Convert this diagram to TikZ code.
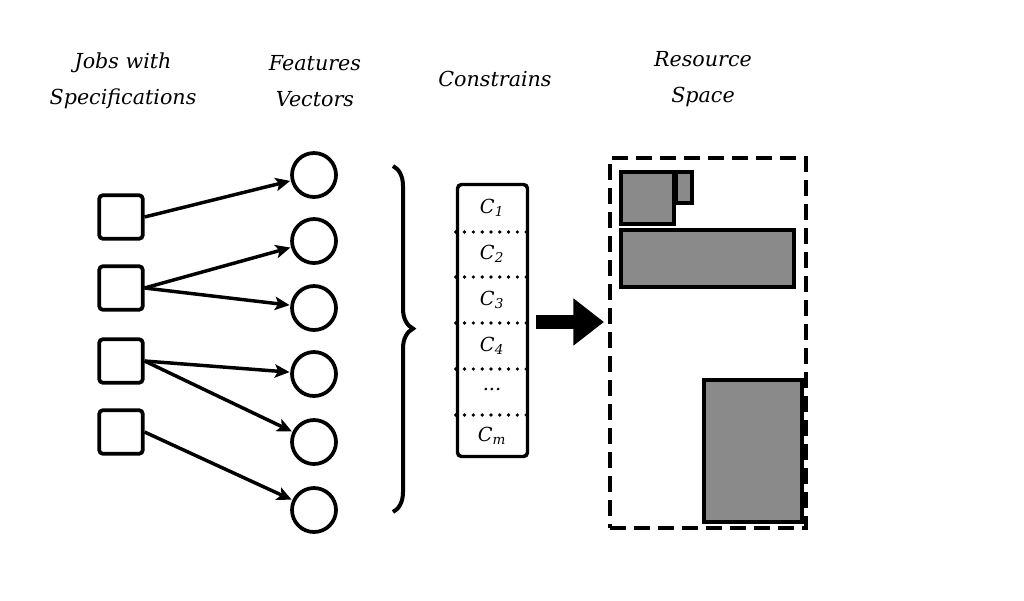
\documentclass[tikz,border=0pt]{standalone}
\usepackage{fontspec}
\setmainfont{DejaVu Serif}
\usetikzlibrary{arrows.meta,calc,decorations.pathreplacing}
\tikzset{
    job-box/.style = {draw, line width=2.8pt, rectangle, rounded corners=2.5pt, minimum size=32.5pt, inner sep=0pt},
    feature-node/.style = {draw, line width=2.8pt, circle, minimum size=33pt, inner sep=0pt},
    link/.style = {line width=2.6pt, -{Stealth[length=11pt, width=10pt, inset=2.5pt]}, shorten >=0.5pt},
    title/.style = {align=center, font=\fontsize{15.5}{27}\selectfont\itshape},
    constraint-box/.style = {draw, line width=2.6pt, rectangle, rounded corners=3pt, minimum width=52.5pt, minimum height=204pt, inner sep=0pt},
    constraint-label/.style = {font=\fontsize{14.5}{16}\selectfont\itshape},
    dot-line/.style = {line width=2.8pt, line cap=round, dash pattern=on 0pt off 6.6pt},
    space-box/.style = {draw, line width=3pt, dash pattern=on 12pt off 6pt, rectangle, minimum width=147pt, minimum height=277.5pt, inner sep=0pt},
    job-block/.style = {draw, line width=2.8pt, fill=black!46},
    fat-arrow/.style = {line width=10.5pt, -{Triangle[length=23pt, width=34pt]}},
}
\begin{document}
\begin{tikzpicture}[x=0.75pt, y=-0.75pt]
\useasboundingbox (0,0) rectangle (1024,600);

\node[title] (jobs-title) at (123,81) {Jobs with\\Specifications};
\node[title] (feat-title) at (315,81) {Features\\Vectors};
\node[title] (cons-title) at (495,79) {Constrains};
\node[title] (space-title) at (703,79) {Resource\\Space};

% jobs and feature vectors
\foreach \i/\y in {1/217,2/288,3/361,4/432}
    \node[job-box] (s\i) at (121,\y) {};
\foreach \i/\y in {1/175,2/241,3/308,4/374,5/442,6/510}
    \node[feature-node] (f\i) at (314,\y) {};
\foreach \a/\b in {1/1,2/2,2/3,3/4,3/5,4/6}
    \draw[link] (s\a.east) -- (f\b);

\coordinate (br-top) at (393,166);
\coordinate (br-bot) at (393,512);
\draw[line width=3pt, decorate, decoration={brace, amplitude=15pt, aspect=0.47}] (br-top) -- (br-bot);

% constrains
\node[constraint-box] (cons) at (492.5,320.5) {};
\foreach \i/\y in {1/232,2/277,3/323,4/369,5/415} {
    \coordinate (d\i) at (0,\y);
    \draw[dot-line] (cons.west |- d\i) -- (cons.east |- d\i);
}
\node[constraint-label] (c1) at (492,208) {C\textsubscript{1}};
\node[constraint-label] (c2) at (492,254) {C\textsubscript{2}};
\node[constraint-label] (c3) at (492,300) {C\textsubscript{3}};
\node[constraint-label] (c4) at (492,346) {C\textsubscript{4}};
\node[constraint-label] (c5) at (492,390) {...};
\node[constraint-label] (cm) at (492,436) {C\textsubscript{m}};

% resource space
\node[space-box] (space) at (708,343) {};
\draw[fat-arrow] ($(cons.east)+(7,1.5)$) -- ($(cons.east -| space.west)+(-4,1.5)$);
\draw[job-block] (621,172) rectangle (674,224);
\draw[job-block] (676,172) rectangle (692,203);
\draw[job-block] (621,230) rectangle (794,287);
\draw[job-block] (704,380) rectangle (802,522);
\end{tikzpicture}
\end{document}
